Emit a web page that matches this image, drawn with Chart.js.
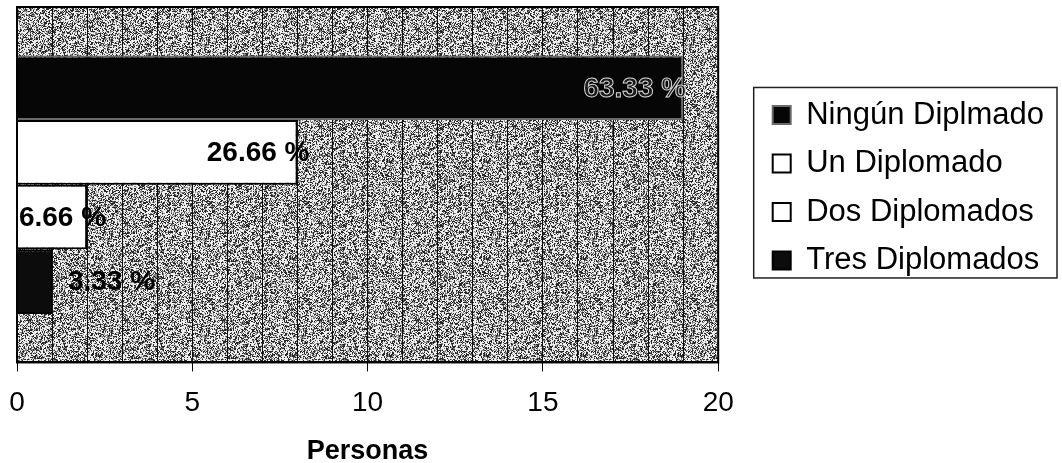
<!DOCTYPE html>
<html>
<head>
<meta charset="utf-8">
<script src="https://cdn.jsdelivr.net/npm/chart.js@4.4.1/dist/chart.umd.min.js"></script>
<style>
  html, body { margin: 0; padding: 0; background: #fff; }
  #wrap { width: 1062px; height: 463px; }
</style>
</head>
<body>
<div id="wrap"><canvas id="diplomados" width="1062" height="463"></canvas></div>
<script>
let categories = [
    'Ningún Diplmado',
    'Un Diplomado',
    'Dos Diplomados',
    'Tres Diplomados'
];

let personas = [19, 8, 2, 1];

let percentLabels = ['63.33 %', '26.66 %', '6.66 %', '3.33 %'];

let xTicks = [0, 5, 10, 15, 20];

let barColors = ['#060606', '#ffffff', '#ffffff', '#0c0c0c'];
let barBorders = ['#6a6a6a', '#000000', '#000000', '#000000'];
// where each % label ends, relative to the end of its bar
let labelShift = [3, 12, 19, 103];

const FONT = "'Liberation Sans', Arial, sans-serif";
const LEGEND_PAD = 17.5;
const LEGEND_DY = 3;

// grainy grey fill like the scanned original (deterministic hash, no random)
function speckle(size) {
    const c = document.createElement('canvas');
    c.width = size; c.height = size;
    const g = c.getContext('2d');
    const img = g.createImageData(size, size);
    for (let y = 0; y < size; y++) {
        for (let x = 0; x < size; x++) {
            let h = (x * 374761393 + y * 668265263) | 0;
            h = (h ^ (h >>> 13)) * 1274126177 | 0;
            h = (h ^ (h >>> 16)) & 255;
            const v = h < 80 ? 40 : (h < 135 ? 135 : 238);
            const i = (y * size + x) * 4;
            img.data[i] = img.data[i + 1] = img.data[i + 2] = v;
            img.data[i + 3] = 255;
        }
    }
    g.putImageData(img, 0, 0);
    return c;
}

const plotBackground = {
    id: 'plotBackground',
    beforeDraw(chart) {
        const {ctx, chartArea: a} = chart;
        ctx.save();
        ctx.fillStyle = ctx.createPattern(speckle(97), 'repeat');
        ctx.fillRect(a.left, a.top, a.right - a.left, a.bottom - a.top);
        ctx.restore();
    },
    afterDatasetsDraw(chart) {
        const {ctx, chartArea: a} = chart;
        ctx.save();
        ctx.strokeStyle = '#000';
        ctx.lineWidth = 2;
        ctx.strokeRect(a.left, a.top, a.right - a.left, a.bottom - a.top);

        ctx.font = 'bold 28px ' + FONT;
        ctx.textAlign = 'right';
        ctx.textBaseline = 'middle';
        chart.data.datasets.forEach((ds, i) => {
            const bar = chart.getDatasetMeta(i).data[0];
            const x = bar.x + labelShift[i];
            const y = bar.y + 1;
            if (i === 0) {
                ctx.fillStyle = '#1a1a1a';
                ctx.strokeStyle = '#d8d8d8';
                ctx.lineWidth = 1;
                ctx.fillText(percentLabels[i], x, y);
                ctx.strokeText(percentLabels[i], x, y);
            } else {
                ctx.fillStyle = '#000';
                ctx.fillText(percentLabels[i], x, y);
            }
        });
        ctx.restore();
    }
};

// keep the legend a fixed gap to the right of the plot, and frame it
const legendBox = {
    id: 'legendBox',
    afterLayout(chart) {
        const lg = chart.legend;
        const s = (chart.chartArea.right + 37) - lg.left;
        lg.left += s;
        lg.right += s;
        lg.top += LEGEND_DY;
        lg.bottom += LEGEND_DY;
    },
    afterDraw(chart) {
        const lg = chart.legend;
        const boxes = lg.legendHitBoxes;
        if (!boxes || !boxes.length) return;
        let t = Infinity, b = -Infinity;
        boxes.forEach(h => {
            t = Math.min(t, h.top);
            b = Math.max(b, h.top + h.height);
        });
        const l = lg.left + LEGEND_PAD - 19;
        const ctx = chart.ctx;
        ctx.save();
        ctx.strokeStyle = '#222';
        ctx.lineWidth = 1.5;
        ctx.strokeRect(l, t - 12, 1057 - l, (b + 2) - (t - 12));
        ctx.restore();
    }
};

const data = {
    labels: [''],
    datasets: categories.map((name, i) => ({
        label: name,
        data: [personas[i]],
        backgroundColor: barColors[i],
        borderColor: barBorders[i],
        borderWidth: 2,
        categoryPercentage: 0.727,
        barPercentage: 1
    }))
};

const config = {
    type: 'bar',
    data: data,
    options: {
        indexAxis: 'y',
        responsive: false,
        animation: false,
        layout: { padding: { left: 17, top: 7, right: 45, bottom: 0 } },
        scales: {
            x: {
                min: 0,
                max: 20,
                afterBuildTicks(scale) {
                    const t = [];
                    for (let v = xTicks[0]; v <= xTicks[xTicks.length - 1]; v++) t.push({value: v});
                    scale.ticks = t;
                },
                afterFit(scale) {
                    scale.paddingLeft = 0;
                },
                ticks: {
                    autoSkip: false,
                    maxRotation: 0,
                    padding: 15,
                    color: '#000',
                    font: { family: FONT, size: 28 },
                    callback: (v) => xTicks.includes(v) ? String(v) : ''
                },
                grid: {
                    color: '#111',
                    lineWidth: 1,
                    tickLength: 9,
                    tickColor: (c) => (c.tick && xTicks.includes(c.tick.value)) ? '#000' : 'rgba(0,0,0,0)'
                },
                border: { display: true, color: '#000', width: 2 },
                title: {
                    display: true,
                    text: 'Personas',
                    color: '#000',
                    font: { family: FONT, size: 27, weight: 'bold', lineHeight: 0.85 },
                    padding: { top: 5, bottom: 0 }
                }
            },
            y: { display: false }
        },
        plugins: {
            legend: {
                position: 'right',
                fullSize: false,
                labels: {
                    color: '#000',
                    font: { family: FONT, size: 31 },
                    boxWidth: 18,
                    boxHeight: 18,
                    padding: LEGEND_PAD
                }
            },
            tooltip: { enabled: false }
        }
    },
    plugins: [plotBackground, legendBox]
};

const chart = new Chart(document.getElementById('diplomados'), config);
</script>
</body>
</html>
